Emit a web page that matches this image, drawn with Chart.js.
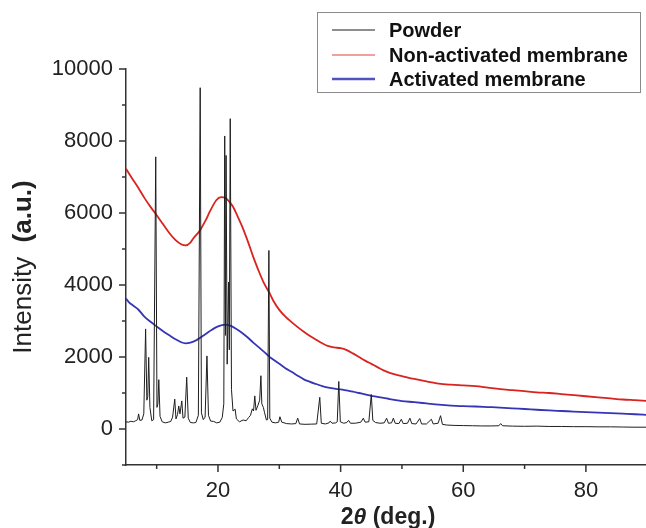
<!DOCTYPE html>
<html><head><meta charset="utf-8">
<script src="https://cdn.jsdelivr.net/npm/chart.js@4.4.0/dist/chart.umd.min.js"></script>
<style>html,body{margin:0;padding:0;background:#fff;overflow:hidden}#wrap{width:646px;height:528px;position:relative}</style>
</head><body><div id="wrap"><canvas id="c" width="646" height="528"></canvas></div>
<script>
const seriesLabels = ["Powder", "Non-activated membrane", "Activated membrane"];

const powderAngle = [5.0,5.4,5.8,6.2,6.6,6.9,7.05,7.25,7.6,7.9,8.2,8.4,8.55,8.7,8.9,9.2,9.5,9.85,10.05,10.2,10.35,10.55,10.9,11.4,11.9,12.3,12.6,12.95,13.15,13.4,13.6,13.8,14.1,14.3,14.6,14.9,15.15,15.5,16.0,16.4,16.8,17.1,17.3,17.6,17.9,18.2,18.45,18.8,19.3,19.8,20.3,20.7,20.95,21.1,21.22,21.32,21.5,21.72,21.85,22.0,22.2,22.45,22.8,23.0,23.5,24.1,24.6,25.0,25.3,25.6,25.8,26.0,26.2,26.5,26.8,27.0,27.15,27.4,27.6,27.9,28.1,28.3,28.45,28.8,29.4,29.9,30.1,30.4,31.2,32.0,32.7,33.0,33.3,34.2,35.2,36.1,36.6,36.85,37.5,38.1,38.3,38.6,39.2,39.45,39.7,39.95,40.5,41.0,41.3,41.6,42.4,43.3,43.7,44.0,44.6,45.0,45.25,45.7,46.4,47.1,47.5,47.8,48.3,48.6,48.9,49.5,49.9,50.2,50.9,51.3,51.6,52.3,52.9,53.2,54.0,54.8,55.1,55.9,56.3,56.6,57.3,58.5,60.0,61.5,63.0,64.5,65.8,66.1,66.4,68.0,70.0,72.0,74.0,76.0,78.0,80.0,82.0,84.0,86.0,88.0,90.0];
const powderIntensity = [200,190,215,200,230,260,420,240,250,420,2780,800,900,1990,600,230,260,7560,600,700,1370,350,200,170,190,210,330,830,280,400,640,420,780,300,330,1440,300,180,170,180,380,9480,450,260,330,2030,380,220,210,170,190,320,700,8140,2600,7600,1800,4080,2200,8620,1100,500,550,280,200,250,230,320,380,560,500,920,520,650,800,1480,700,600,450,250,260,4960,300,190,170,190,340,190,150,140,150,300,140,130,135,140,880,160,140,170,220,160,170,200,1320,200,160,180,240,160,160,190,300,190,200,960,240,180,160,170,300,160,170,300,160,150,270,150,160,300,150,140,290,140,140,270,140,160,370,130,110,100,95,90,85,85,90,150,90,80,75,80,70,70,65,65,60,60,55,50,50];

const nonActAngle = [5,6,7,8,9,10,11,12,13,14,14.7,15.5,16,17,18,18.7,19.75,20.5,21.2,22,22.5,23,24,25,25.75,26.5,27.5,28.4,29,30,31,32,33,34,35,36,37,38,39,40,41,42,43,44,45,46,47,48,49,50,52,54,56,58,60,62,64,66,68,70,72,74,76,78,80,82,84,86,88,90];
const nonActIntensity = [7230,6960,6700,6420,6170,5940,5700,5460,5260,5130,5100,5180,5300,5500,5800,6050,6360,6440,6420,6280,6160,5980,5600,5150,4780,4450,4050,3780,3570,3310,3120,2970,2830,2700,2585,2480,2380,2300,2265,2245,2190,2100,2000,1900,1810,1720,1630,1560,1510,1470,1390,1320,1260,1230,1210,1190,1150,1110,1080,1050,1020,1000,970,940,910,880,850,820,800,780];

const actAngle = [5,5.5,6,7,8,9,10,11,12,13,14,14.7,15.5,16.5,17.5,18.5,19.5,20.5,21.2,22,23,24,25,25.75,27,28,28.5,29,30,31,32,33,34,35,36,37,38,39,40,41,42,43,44,45,46,47,48,49,50,52,54,56,58,60,62,64,66,68,70,72,74,76,78,80,82,84,86,88,90];
const actIntensity = [3620,3520,3450,3320,3120,2980,2850,2720,2610,2500,2410,2380,2400,2470,2580,2700,2810,2880,2900,2870,2780,2660,2520,2400,2220,2070,1990,1930,1810,1690,1590,1480,1380,1310,1250,1190,1150,1120,1100,1070,1040,1000,960,920,895,865,830,800,775,745,710,675,650,635,625,610,595,575,555,535,515,500,485,470,455,440,425,410,390];

const xTickLabels = [20, 40, 60, 80];
const xMinorTicks = [10, 30, 50, 70, 90];
const yTickLabels = [0, 2000, 4000, 6000, 8000, 10000];
const yMinorTicks = [-1000, 1000, 3000, 5000, 7000, 9000];

const FONT = "'Liberation Sans', Arial, sans-serif";
const colors = ["#1e1e1e", "#d8231f", "#3535b5"];
const widths = [1, 1.8, 1.8];

function pts(xs, ys) { return xs.map((x, i) => ({x: x, y: ys[i]})); }

const decor = {
  id: 'decor',
  afterDraw(chart) {
    const ctx = chart.ctx;
    const xs = chart.scales.x, ys = chart.scales.y;
    const ca = chart.chartArea;
    ctx.save();
    ctx.strokeStyle = '#333';
    ctx.lineWidth = 1.5;
    ctx.beginPath();
    xTickLabels.forEach(v => { const p = xs.getPixelForValue(v); ctx.moveTo(p, ca.bottom); ctx.lineTo(p, ca.bottom + 7); });
    xMinorTicks.forEach(v => { const p = xs.getPixelForValue(v); if (p <= ca.right) { ctx.moveTo(p, ca.bottom); ctx.lineTo(p, ca.bottom + 4); } });
    yTickLabels.forEach(v => { const p = ys.getPixelForValue(v); ctx.moveTo(ca.left, p); ctx.lineTo(ca.left - 7, p); });
    yMinorTicks.forEach(v => { const p = ys.getPixelForValue(v); ctx.moveTo(ca.left, p); ctx.lineTo(ca.left - 4, p); });
    ctx.stroke();

    // y title
    ctx.fillStyle = '#222';
    ctx.textBaseline = 'middle';
    const f1 = "26px " + FONT, f2 = "bold 26px " + FONT;
    ctx.font = f1; const w1 = ctx.measureText("Intensity  ").width;
    ctx.font = f2; const w2 = ctx.measureText("(a.u.)").width;
    ctx.save();
    ctx.translate(24, 267);
    ctx.rotate(-Math.PI / 2);
    let sx = -(w1 + w2) / 2;
    ctx.textAlign = 'left';
    ctx.font = f1; ctx.fillText("Intensity  ", sx, 0);
    ctx.font = f2; ctx.fillText("(a.u.)", sx + w1, 0);
    ctx.restore();

    // x title
    ctx.textBaseline = 'alphabetic';
    const g1 = "bold 23px " + FONT, g2 = "italic bold 23px " + FONT;
    ctx.font = g1; const a = ctx.measureText("2").width;
    ctx.font = g2; const b = ctx.measureText("\u03B8").width;
    ctx.font = g1; const c = ctx.measureText(" (deg.)").width;
    let tx = 388 - (a + b + c) / 2;
    const by = 524;
    ctx.font = g1; ctx.fillText("2", tx, by);
    ctx.font = g2; ctx.fillText("\u03B8", tx + a, by);
    ctx.font = g1; ctx.fillText(" (deg.)", tx + a + b, by);

    // legend
    ctx.strokeStyle = '#8a8a8a';
    ctx.lineWidth = 1;
    ctx.strokeRect(317.5, 12.5, 323, 80);
    const rows = [30, 55, 79];
    ctx.font = "bold 20px " + FONT;
    ctx.textBaseline = 'middle';
    chart.data.datasets.forEach((ds, i) => {
      ctx.strokeStyle = ds.borderColor;
      ctx.lineWidth = i === 2 ? 2.5 : 1.2;
      ctx.globalAlpha = i === 0 ? 1 : 0.85;
      ctx.beginPath(); ctx.moveTo(332, rows[i]); ctx.lineTo(375, rows[i]); ctx.stroke();
      ctx.globalAlpha = 1;
      ctx.fillStyle = '#111';
      ctx.fillText(ds.label, 389, rows[i] + 1);
    });
    ctx.restore();
  }
};

new Chart(document.getElementById('c'), {
  type: 'line',
  data: {
    datasets: [
      { label: seriesLabels[0], data: pts(powderAngle, powderIntensity), borderColor: colors[0], borderWidth: widths[0], pointRadius: 0, tension: 0, fill: false },
      { label: seriesLabels[1], data: pts(nonActAngle, nonActIntensity), borderColor: colors[1], borderWidth: widths[1], pointRadius: 0, cubicInterpolationMode: 'monotone', fill: false },
      { label: seriesLabels[2], data: pts(actAngle, actIntensity), borderColor: colors[2], borderWidth: widths[2], pointRadius: 0, cubicInterpolationMode: 'monotone', fill: false }
    ]
  },
  options: {
    responsive: false,
    animation: false,
    devicePixelRatio: 1,
    layout: { padding: { top: 69, right: 0, left: 0, bottom: 0 } },
    plugins: { legend: { display: false }, tooltip: { enabled: false } },
    scales: {
      x: {
        type: 'linear', min: 5, max: 89.8,
        afterBuildTicks: s => { s.ticks = xTickLabels.map(v => ({ value: v })); },
        afterFit: s => { s.height = 63; },
        grid: { display: false },
        border: { display: true, color: '#333', width: 1.5 },
        ticks: { color: '#222', font: { size: 22, family: FONT }, padding: 5, maxRotation: 0, callback: v => String(v) }
      },
      y: {
        type: 'linear', min: -1000, max: 10000,
        afterBuildTicks: s => { s.ticks = yTickLabels.map(v => ({ value: v })); },
        afterFit: s => { s.width = 126; },
        grid: { display: false },
        border: { display: true, color: '#333', width: 1.5 },
        ticks: { color: '#222', font: { size: 22, family: FONT }, padding: 5, callback: v => String(v) }
      }
    }
  },
  plugins: [decor]
});
</script>
</body></html>
